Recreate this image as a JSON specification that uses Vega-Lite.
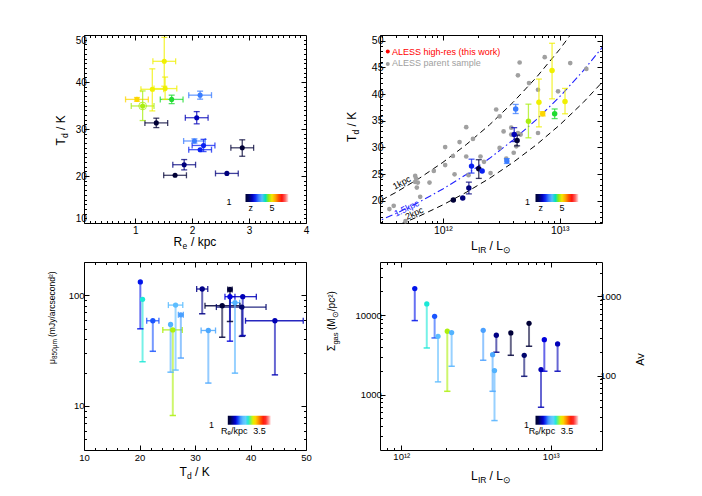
{
  "$schema": "https://vega.github.io/schema/vega-lite/v6.json",
  "background": "white",
  "padding": {"left": 46, "top": 34, "right": 2, "bottom": 2},
  "config": {
    "font": "Liberation Sans",
    "view": {"stroke": "black", "strokeWidth": 1},
    "axis": {"domain": false, "grid": false, "tickColor": "black", "tickWidth": 1, "labelColor": "black", "titleColor": "black", "titleFontWeight": "normal", "titleFontSize": 12, "labelFontSize": 10, "labelFlush": false, "labelOverlap": false, "labelBound": false},
    "legend": {"padding": 0, "gradientStrokeWidth": 0, "labelColor": "black", "labelFontSize": 9, "labelOverlap": false, "titleFontSize": 9, "titleFontWeight": "normal", "titleColor": "black", "titleOrient": "left", "titleAnchor": "middle", "titleBaseline": "top"}
  },
  "datasets": {
    "hr": [
      {"id": "a", "Re": 1.70, "Re_lo": 1.50, "Re_hi": 1.90, "Td": 20.15, "Td_lo": null, "Td_hi": null, "LIR": 1.23e12, "z": 1.05, "mu": 132, "mu_lo": 49.8, "sig": 21700, "sig_lo": 8570},
      {"id": "b", "Re": 2.61, "Re_lo": 2.41, "Re_hi": 2.81, "Td": 20.55, "Td_lo": null, "Td_hi": null, "LIR": 1.48e12, "z": 1.65, "mu": 92, "mu_lo": 25.1, "sig": 13900, "sig_lo": 3870},
      {"id": "c", "Re": 1.86, "Re_lo": 1.66, "Re_hi": 2.06, "Td": 22.4, "Td_lo": 21.3, "Td_hi": 23.5, "LIR": 1.67e12, "z": 1.65, "mu": 58.9, "mu_lo": 31.2, "sig": 9710, "sig_lo": 5180},
      {"id": "d", "Re": 2.20, "Re_lo": 2.00, "Re_hi": 2.40, "Td": 26.5, "Td_lo": 25.2, "Td_hi": 27.8, "LIR": 1.76e12, "z": 2.43, "mu": 81.6, "mu_lo": 21.1, "sig": 5430, "sig_lo": 1446},
      {"id": "e", "Re": 2.88, "Re_lo": 2.68, "Re_hi": 3.08, "Td": 26.0, "Td_lo": 24.2, "Td_hi": 27.7, "LIR": 2.03e12, "z": 1.05, "mu": 48.7, "mu_lo": 8.2, "sig": 6290, "sig_lo": 1100},
      {"id": "f", "Re": 2.14, "Re_lo": 1.94, "Re_hi": 2.34, "Td": 25.6, "Td_lo": null, "Td_hi": null, "LIR": 2.17e12, "z": 2.43, "mu": 54.5, "mu_lo": 20.2, "sig": 6050, "sig_lo": 2275},
      {"id": "g", "Re": 2.04, "Re_lo": 1.85, "Re_hi": 2.23, "Td": 27.45, "Td_lo": 27.0, "Td_hi": 27.9, "LIR": 3.53e12, "z": 2.95, "mu": 66.7, "mu_lo": 27.1, "sig": 6470, "sig_lo": 2710},
      {"id": "h", "Re": 2.14, "Re_lo": 1.94, "Re_hi": 2.34, "Td": 37.2, "Td_lo": 36.35, "Td_hi": 38.05, "LIR": 4.2e12, "z": 2.95, "mu": 85.8, "mu_lo": 19.8, "sig": 2010, "sig_lo": 470},
      {"id": "i", "Re": 2.08, "Re_lo": 1.88, "Re_hi": 2.28, "Td": 32.4, "Td_lo": 31.1, "Td_hi": 33.7, "LIR": 4.08e12, "z": 2.0, "mu": 48.1, "mu_lo": 16.1, "sig": 3190, "sig_lo": 1100},
      {"id": "j", "Re": 1.37, "Re_lo": 1.17, "Re_hi": 1.57, "Td": 31.3, "Td_lo": 30.3, "Td_hi": 32.3, "LIR": 4.32e12, "z": 1.05, "mu": 114, "mu_lo": 68.1, "sig": 5600, "sig_lo": 3420},
      {"id": "k", "Re": 1.13, "Re_lo": 0.93, "Re_hi": 1.33, "Td": 34.9, "Td_lo": 31.8, "Td_hi": 38.1, "LIR": 5.4e12, "z": 4.575, "mu": 80.5, "mu_lo": 41.8, "sig": 5990, "sig_lo": 3130},
      {"id": "l", "Re": 1.30, "Re_lo": 1.10, "Re_hi": 1.50, "Td": 38.45, "Td_lo": 33.85, "Td_hi": 42.8, "LIR": 6.64e12, "z": 4.9, "mu": 78.3, "mu_lo": 42.6, "sig": 3130, "sig_lo": 1700},
      {"id": "m", "Re": 1.03, "Re_lo": 0.83, "Re_hi": 1.23, "Td": 36.3, "Td_lo": 35.9, "Td_hi": 36.7, "LIR": 7.15e12, "z": 5.16, "mu": 113, "mu_lo": 58, "sig": 7930, "sig_lo": 4070},
      {"id": "n", "Re": 1.51, "Re_lo": 1.31, "Re_hi": 1.71, "Td": 44.4, "Td_lo": 39.1, "Td_hi": 49.5, "LIR": 8.6e12, "z": 4.9, "mu": 58.9, "mu_lo": 19.1, "sig": 2065, "sig_lo": 692},
      {"id": "o", "Re": 1.64, "Re_lo": 1.44, "Re_hi": 1.84, "Td": 36.3, "Td_lo": 35.4, "Td_hi": 37.2, "LIR": 9.05e12, "z": 4.25, "mu": 97.2, "mu_lo": 38.5, "sig": 4930, "sig_lo": 1970},
      {"id": "p", "Re": 1.525, "Re_lo": 1.33, "Re_hi": 1.73, "Td": 38.6, "Td_lo": 36.3, "Td_hi": 41.05, "LIR": 1.11e13, "z": 4.9, "mu": 97.2, "mu_lo": 43.3, "sig": 4350, "sig_lo": 1970}
    ],
    "parent": [
      {"LIR": 3.49e11, "Td": 18.45}, {"LIR": 3.80e11, "Td": 19.07}, {"LIR": 4.79e11, "Td": 16.2}, {"LIR": 5.80e11, "Td": 24.66}, {"LIR": 5.91e11, "Td": 24.16}, {"LIR": 5.80e11, "Td": 23.54}, {"LIR": 6.11e11, "Td": 23.42}, {"LIR": 5.99e11, "Td": 22.48}, {"LIR": 6.40e11, "Td": 20.75}, {"LIR": 7.69e11, "Td": 23.42}, {"LIR": 8.37e11, "Td": 25.6}, {"LIR": 1.047e12, "Td": 30.06}, {"LIR": 1.047e12, "Td": 26.7}, {"LIR": 1.22e12, "Td": 28.4}, {"LIR": 1.26e12, "Td": 24.97}, {"LIR": 1.39e12, "Td": 31.0}, {"LIR": 1.585e12, "Td": 33.8}, {"LIR": 1.585e12, "Td": 28.3}, {"LIR": 1.66e12, "Td": 24.8}, {"LIR": 1.81e12, "Td": 31.6}, {"LIR": 2.1e12, "Td": 28.3}, {"LIR": 2.25e12, "Td": 27.3}, {"LIR": 2.56e12, "Td": 25.2}, {"LIR": 2.86e12, "Td": 37.1}, {"LIR": 3.06e12, "Td": 35.8}, {"LIR": 3.06e12, "Td": 29.9}, {"LIR": 3.31e12, "Td": 33.0}, {"LIR": 3.49e12, "Td": 27.9}, {"LIR": 3.85e12, "Td": 33.7}, {"LIR": 3.85e12, "Td": 32.4}, {"LIR": 4.04e12, "Td": 29.0}, {"LIR": 4.39e12, "Td": 32.7}, {"LIR": 4.39e12, "Td": 43.5}, {"LIR": 4.54e12, "Td": 45.9}, {"LIR": 4.63e12, "Td": 32.4}, {"LIR": 4.25e12, "Td": 30.2}, {"LIR": 5.46e12, "Td": 42.05}, {"LIR": 6.52e12, "Td": 40.8}, {"LIR": 6.52e12, "Td": 32.7}, {"LIR": 7.44e12, "Td": 46.9}, {"LIR": 9.68e12, "Td": 40.5}, {"LIR": 1.23e13, "Td": 45.8}, {"LIR": 1.69e13, "Td": 44.7}
    ],
    "curves": [
      {"R": "1kpc", "LIR": 2.512e11, "T": 19.25}, {"R": "1kpc", "LIR": 3.981e11, "T": 21.6}, {"R": "1kpc", "LIR": 6.31e11, "T": 24.24}, {"R": "1kpc", "LIR": 1e12, "T": 27.2}, {"R": "1kpc", "LIR": 1.585e12, "T": 30.52}, {"R": "1kpc", "LIR": 2.512e12, "T": 34.24}, {"R": "1kpc", "LIR": 3.981e12, "T": 38.42}, {"R": "1kpc", "LIR": 6.31e12, "T": 43.11}, {"R": "1kpc", "LIR": 1e13, "T": 48.37}, {"R": "1kpc", "LIR": 1.585e13, "T": 54.27}, {"R": "1kpc", "LIR": 2.512e13, "T": 60.89},
      {"R": "1.5kpc", "LIR": 2.512e11, "T": 15.72}, {"R": "1.5kpc", "LIR": 3.981e11, "T": 17.64}, {"R": "1.5kpc", "LIR": 6.31e11, "T": 19.8}, {"R": "1.5kpc", "LIR": 1e12, "T": 22.21}, {"R": "1.5kpc", "LIR": 1.585e12, "T": 24.92}, {"R": "1.5kpc", "LIR": 2.512e12, "T": 27.96}, {"R": "1.5kpc", "LIR": 3.981e12, "T": 31.37}, {"R": "1.5kpc", "LIR": 6.31e12, "T": 35.2}, {"R": "1.5kpc", "LIR": 1e13, "T": 39.5}, {"R": "1.5kpc", "LIR": 1.585e13, "T": 44.32}, {"R": "1.5kpc", "LIR": 2.512e13, "T": 49.72},
      {"R": "2kpc", "LIR": 2.512e11, "T": 13.62}, {"R": "2kpc", "LIR": 3.981e11, "T": 15.28}, {"R": "2kpc", "LIR": 6.31e11, "T": 17.15}, {"R": "2kpc", "LIR": 1e12, "T": 19.24}, {"R": "2kpc", "LIR": 1.585e12, "T": 21.59}, {"R": "2kpc", "LIR": 2.512e12, "T": 24.22}, {"R": "2kpc", "LIR": 3.981e12, "T": 27.18}, {"R": "2kpc", "LIR": 6.31e12, "T": 30.49}, {"R": "2kpc", "LIR": 1e13, "T": 34.21}, {"R": "2kpc", "LIR": 1.585e13, "T": 38.39}, {"R": "2kpc", "LIR": 2.512e13, "T": 43.07}
    ]
  },
  "columns": 2,
  "spacing": {"row": 39, "column": 74},
  "bounds": "flush",
  "resolve": {"scale": {"x": "independent", "y": "independent", "fill": "independent", "stroke": "independent"}, "legend": {"fill": "independent", "stroke": "independent"}, "axis": {"x": "independent", "y": "independent"}},
  "concat": [
    {
      "width": 222, "height": 188,
      "resolve": {"axis": {"x": "independent", "y": "independent"}},
      "layer": [
        {"data": {"name": "hr"},
         "mark": {"type": "rule", "strokeWidth": 1.3, "opacity": 0.75},
         "encoding": {
           "x": {"field": "Re_lo", "type": "quantitative", "scale": {"domain": [0.1, 4], "nice": false, "zero": false}, "axis": {"orient": "top", "values": [1, 2, 3], "tickSize": -5, "labels": false, "title": null}},
           "x2": {"field": "Re_hi"},
           "y": {"field": "Td", "type": "quantitative", "scale": {"domain": [10, 50], "nice": false, "zero": false}, "axis": {"orient": "right", "values": [20, 30, 40], "tickSize": -5, "labels": false, "title": null}},
           "stroke": {"field": "z", "type": "quantitative", "legend": null,
             "scale": {"type": "linear", "domain": [0.9999, 1.325, 1.65, 1.975, 2.3, 2.625, 2.95, 3.275, 3.6, 3.925, 4.25, 4.575, 4.9, 5.225, 5.55, 5.875, 6.2, 6.525, 6.85, 7.175, 7.5], "range": ["#000000", "#00003a", "#00007c", "#0000b4", "#0000e8", "#1a3cff", "#3a7cff", "#50a4ff", "#62c4ff", "#50e0d0", "#20dc30", "#a8ee10", "#f0f000", "#ffd000", "#ffa000", "#ff6800", "#ff2800", "#ff1010", "#ff3838", "#ff9090", "#ffe8e8"]}}
         }},
        {"data": {"name": "hr"},
         "transform": [{"fold": ["Re_lo", "Re_hi"], "as": ["k", "xv"]}],
         "mark": {"type": "point", "shape": "M0,-1L0,1", "filled": false, "size": 36, "strokeWidth": 1.3, "opacity": 0.75},
         "encoding": {
           "x": {"field": "xv", "type": "quantitative", "axis": {"orient": "bottom", "values": [0.2,0.3,0.4,0.5,0.6,0.7,0.8,0.9,1.1,1.2,1.3,1.4,1.5,1.6,1.7,1.8,1.9,2.1,2.2,2.3,2.4,2.5,2.6,2.7,2.8,2.9,3.1,3.2,3.3,3.4,3.5,3.6,3.7,3.8,3.9], "tickSize": -2.5, "labels": false, "title": null}},
           "y": {"field": "Td", "type": "quantitative", "axis": {"orient": "left", "values": [11,12,13,14,15,16,17,18,19,21,22,23,24,25,26,27,28,29,31,32,33,34,35,36,37,38,39,41,42,43,44,45,46,47,48,49], "tickSize": -2.5, "labels": false, "title": null}},
           "stroke": {"field": "z", "type": "quantitative", "legend": null}
         }},
        {"data": {"name": "hr"},
         "transform": [{"filter": "isValid(datum.Td_lo)"}],
         "mark": {"type": "rule", "strokeWidth": 1.3, "opacity": 0.75},
         "encoding": {
           "x": {"field": "Re", "type": "quantitative", "axis": {"orient": "top", "values": [0.2,0.3,0.4,0.5,0.6,0.7,0.8,0.9,1.1,1.2,1.3,1.4,1.5,1.6,1.7,1.8,1.9,2.1,2.2,2.3,2.4,2.5,2.6,2.7,2.8,2.9,3.1,3.2,3.3,3.4,3.5,3.6,3.7,3.8,3.9], "tickSize": -2.5, "labels": false, "title": null}},
           "y": {"field": "Td_lo", "type": "quantitative", "axis": {"orient": "right", "values": [11,12,13,14,15,16,17,18,19,21,22,23,24,25,26,27,28,29,31,32,33,34,35,36,37,38,39,41,42,43,44,45,46,47,48,49], "tickSize": -2.5, "labels": false, "title": null}},
           "y2": {"field": "Td_hi"},
           "stroke": {"field": "z", "type": "quantitative", "legend": null}
         }},
        {"data": {"name": "hr"},
         "transform": [{"fold": ["Td_lo", "Td_hi"], "as": ["k", "yv"]}, {"filter": "isValid(datum.yv)"}],
         "mark": {"type": "point", "shape": "M-1,0L1,0", "filled": false, "size": 36, "strokeWidth": 1.3, "opacity": 0.75},
         "encoding": {
           "x": {"field": "Re", "type": "quantitative", "axis": {"orient": "bottom", "ticks": false, "labels": false, "title": "e", "titleFontSize": 8.5, "titleX": 98, "titleY": 25.5, "titleAlign": "left", "titleBaseline": "alphabetic"}},
           "y": {"field": "yv", "type": "quantitative", "axis": {"orient": "left", "ticks": false, "labels": false, "title": "d", "titleFontSize": 8.5, "titleX": -16.2, "titleY": 102.4, "titleAngle": -90, "titleAlign": "left", "titleBaseline": "alphabetic"}},
           "stroke": {"field": "z", "type": "quantitative", "legend": null}
         }},
        {"data": {"name": "hr"},
         "transform": [{"filter": "datum.id == 'k'"}],
         "mark": {"type": "point", "shape": "circle", "filled": false, "size": 60, "strokeWidth": 1, "opacity": 0.8},
         "encoding": {
           "x": {"field": "Re", "type": "quantitative", "axis": {"orient": "bottom", "ticks": false, "labels": false, "title": "/ kpc", "titleX": 106.5, "titleY": 22.5, "titleAlign": "left", "titleBaseline": "alphabetic"}},
           "y": {"field": "Td", "type": "quantitative", "axis": {"orient": "left", "ticks": false, "labels": false, "title": "/ K", "titleX": -19.2, "titleY": 94.5, "titleAngle": -90, "titleAlign": "left", "titleBaseline": "alphabetic"}},
           "stroke": {"field": "z", "type": "quantitative", "legend": null}
         }},
        {"data": {"name": "hr"},
         "mark": {"type": "circle", "size": 26, "opacity": 1},
         "encoding": {
           "x": {"field": "Re", "type": "quantitative", "axis": {"orient": "bottom", "values": [1, 2, 3, 4], "tickSize": -5, "labelPadding": 7, "title": "R", "titleX": 89, "titleY": 22.5, "titleBaseline": "alphabetic", "titleAlign": "left"}},
           "y": {"field": "Td", "type": "quantitative", "axis": {"orient": "left", "values": [10, 20, 30, 40, 50], "tickSize": -5, "labelPadding": 2.7, "labelFlush": true, "title": "T", "titleX": -19.2, "titleY": 110, "titleAngle": -90, "titleBaseline": "alphabetic", "titleAlign": "left"}},
           "fill": {"field": "z", "type": "quantitative",
             "scale": {"type": "linear", "domain": [1, 1.325, 1.65, 1.975, 2.3, 2.625, 2.95, 3.275, 3.6, 3.925, 4.25, 4.575, 4.9, 5.225, 5.55, 5.875, 6.2, 6.525, 6.85, 7.175, 7.5], "range": ["#000000", "#00003a", "#00007c", "#0000b4", "#0000e8", "#1a3cff", "#3a7cff", "#50a4ff", "#62c4ff", "#50e0d0", "#20dc30", "#a8ee10", "#f0f000", "#ffd000", "#ffa000", "#ff6800", "#ff2800", "#ff1010", "#ff3838", "#ff9090", "#ffe8e8"]},
             "legend": {"type": "gradient", "orient": "none", "legendX": 142.5, "legendY": 159, "direction": "horizontal", "gradientLength": 43, "gradientThickness": 8, "values": [1.81, 5], "labelExpr": "datum.value == 5 ? '5' : 'z'", "title": "1", "titlePadding": 13, "labelAlign": "center", "labelOffset": 2}}
         }}
      ]
    },
    {
      "width": 222, "height": 188,
      "resolve": {"axis": {"x": "independent", "y": "independent"}},
      "layer": [
        {"data": {"name": "curves"},
         "transform": [{"filter": "datum.R != '1.5kpc'"}],
         "mark": {"type": "line", "color": "black", "strokeDash": [6, 4], "strokeWidth": 1, "clip": true},
         "encoding": {
           "x": {"field": "LIR", "type": "quantitative", "scale": {"type": "log", "domain": [2.9e11, 2.3e13], "nice": false}, "axis": {"orient": "top", "values": [1e12, 1e13], "tickSize": -5, "labels": false, "title": null}},
           "y": {"field": "T", "type": "quantitative", "scale": {"domain": [15.85, 51.05], "nice": false, "zero": false}, "axis": {"orient": "right", "values": [20, 25, 30, 35, 40, 45, 50], "tickSize": -5, "labels": false, "title": null}},
           "detail": {"field": "R"}
         }},
        {"data": {"name": "curves"},
         "transform": [{"filter": "datum.R == '1.5kpc'"}],
         "mark": {"type": "line", "color": "#2020ff", "strokeDash": [7, 3, 1.5, 3], "strokeWidth": 1.1, "clip": true},
         "encoding": {
           "x": {"field": "LIR", "type": "quantitative", "axis": {"orient": "bottom", "values": [3e11,4e11,5e11,6e11,7e11,8e11,9e11,2e12,3e12,4e12,5e12,6e12,7e12,8e12,9e12,2e13], "tickSize": -2.5, "labels": false, "title": null}},
           "y": {"field": "T", "type": "quantitative", "axis": {"orient": "left", "values": [16,17,18,19,21,22,23,24,26,27,28,29,31,32,33,34,36,37,38,39,41,42,43,44,46,47,48,49,51], "tickSize": -2.5, "labels": false, "title": null}}
         }},
        {"data": {"name": "parent"},
         "mark": {"type": "circle", "color": "#a0a0a0", "size": 22, "opacity": 1},
         "encoding": {
           "x": {"field": "LIR", "type": "quantitative", "axis": {"orient": "top", "values": [3e11,4e11,5e11,6e11,7e11,8e11,9e11,2e12,3e12,4e12,5e12,6e12,7e12,8e12,9e12,2e13], "tickSize": -2.5, "labels": false, "title": null}},
           "y": {"field": "Td", "type": "quantitative", "axis": {"orient": "right", "values": [16,17,18,19,21,22,23,24,26,27,28,29,31,32,33,34,36,37,38,39,41,42,43,44,46,47,48,49,51], "tickSize": -2.5, "labels": false, "title": null}}
         }},
        {"data": {"values": [{}]},
         "mark": {"type": "text", "text": "1kpc", "angle": -28, "fontSize": 9, "color": "black"},
         "encoding": {
           "x": {"datum": 4.45e11, "type": "quantitative", "axis": {"orient": "bottom", "ticks": false, "labels": false, "title": "IR", "titleFontSize": 8.5, "titleX": 97.5, "titleY": 29, "titleAlign": "left", "titleBaseline": "alphabetic"}},
           "y": {"datum": 23.4, "type": "quantitative", "axis": {"orient": "left", "ticks": false, "labels": false, "title": "d", "titleFontSize": 8.5, "titleX": -21.7, "titleY": 98.9, "titleAngle": -90, "titleAlign": "left", "titleBaseline": "alphabetic"}}}},
        {"data": {"values": [{}]},
         "mark": {"type": "text", "text": "1.5kpc", "angle": -26, "fontSize": 9, "color": "#2020ff"},
         "encoding": {
           "x": {"datum": 4.9e11, "type": "quantitative", "axis": {"orient": "bottom", "ticks": false, "labels": false, "title": "⊙", "titleFontSize": 8.5, "titleX": 122.8, "titleY": 29, "titleAlign": "left", "titleBaseline": "alphabetic"}},
           "y": {"datum": 18.6, "type": "quantitative", "axis": {"orient": "left", "ticks": false, "labels": false, "title": "/ K", "titleX": -24.7, "titleY": 91, "titleAngle": -90, "titleAlign": "left", "titleBaseline": "alphabetic"}}}},
        {"data": {"values": [{}]},
         "mark": {"type": "text", "text": "2kpc", "angle": -25, "fontSize": 9, "color": "black"},
         "encoding": {
           "x": {"datum": 5.7e11, "type": "quantitative", "axis": {"orient": "bottom", "ticks": false, "labels": false, "title": "/ L", "titleX": 109, "titleY": 26, "titleAlign": "left", "titleBaseline": "alphabetic"}},
           "y": {"datum": 17.65, "type": "quantitative", "axis": null}}},
        {"data": {"values": [{}]},
         "mark": {"type": "circle", "color": "#ff0000", "size": 16, "opacity": 1},
         "encoding": {"x": {"datum": 3.38e11, "type": "quantitative", "axis": null}, "y": {"datum": 47.95, "type": "quantitative", "axis": null}}},
        {"data": {"values": [{}]},
         "mark": {"type": "text", "text": "ALESS high-res (this work)", "align": "left", "fontSize": 9, "color": "#ff0000"},
         "encoding": {"x": {"datum": 3.68e11, "type": "quantitative", "axis": null}, "y": {"datum": 47.95, "type": "quantitative", "axis": null}}},
        {"data": {"values": [{}]},
         "mark": {"type": "circle", "color": "#a0a0a0", "size": 16, "opacity": 1},
         "encoding": {"x": {"datum": 3.38e11, "type": "quantitative", "axis": null}, "y": {"datum": 45.6, "type": "quantitative", "axis": null}}},
        {"data": {"values": [{}]},
         "mark": {"type": "text", "text": "ALESS parent sample", "align": "left", "fontSize": 9, "color": "#a0a0a0"},
         "encoding": {"x": {"datum": 3.68e11, "type": "quantitative", "axis": null}, "y": {"datum": 45.9, "type": "quantitative", "axis": null}}},
        {"data": {"name": "hr"},
         "transform": [{"filter": "isValid(datum.Td_lo)"}],
         "mark": {"type": "rule", "strokeWidth": 1.3, "opacity": 0.75},
         "encoding": {
           "x": {"field": "LIR", "type": "quantitative", "axis": null},
           "y": {"field": "Td_lo", "type": "quantitative", "axis": null},
           "y2": {"field": "Td_hi"},
           "stroke": {"field": "z", "type": "quantitative", "legend": null,
             "scale": {"type": "linear", "domain": [0.9999, 1.325, 1.65, 1.975, 2.3, 2.625, 2.95, 3.275, 3.6, 3.925, 4.25, 4.575, 4.9, 5.225, 5.55, 5.875, 6.2, 6.525, 6.85, 7.175, 7.5], "range": ["#000000", "#00003a", "#00007c", "#0000b4", "#0000e8", "#1a3cff", "#3a7cff", "#50a4ff", "#62c4ff", "#50e0d0", "#20dc30", "#a8ee10", "#f0f000", "#ffd000", "#ffa000", "#ff6800", "#ff2800", "#ff1010", "#ff3838", "#ff9090", "#ffe8e8"]}}
         }},
        {"data": {"name": "hr"},
         "transform": [{"fold": ["Td_lo", "Td_hi"], "as": ["k", "yv"]}, {"filter": "isValid(datum.yv)"}],
         "mark": {"type": "point", "shape": "M-1,0L1,0", "filled": false, "size": 36, "strokeWidth": 1.3, "opacity": 0.75},
         "encoding": {
           "x": {"field": "LIR", "type": "quantitative", "axis": null},
           "y": {"field": "yv", "type": "quantitative", "axis": null},
           "stroke": {"field": "z", "type": "quantitative", "legend": null}
         }},
        {"data": {"name": "hr"},
         "mark": {"type": "circle", "size": 30, "opacity": 1},
         "encoding": {
           "x": {"field": "LIR", "type": "quantitative", "axis": {"orient": "bottom", "values": [1e12, 1e13], "labelExpr": "datum.value < 5e12 ? '10¹²' : '10¹³'", "tickSize": -5, "labelPadding": 7, "labelFontSize": 10.5, "title": "L", "titleX": 90.5, "titleY": 26, "titleBaseline": "alphabetic", "titleAlign": "left"}},
           "y": {"field": "Td", "type": "quantitative", "axis": {"orient": "left", "values": [20, 25, 30, 35, 40, 45, 50], "tickSize": -5, "labelPadding": 2, "labelFontSize": 10.5, "title": "T", "titleX": -24.7, "titleY": 106.5, "titleAngle": -90, "titleBaseline": "alphabetic", "titleAlign": "left"}},
           "fill": {"field": "z", "type": "quantitative",
             "scale": {"type": "linear", "domain": [1, 1.325, 1.65, 1.975, 2.3, 2.625, 2.95, 3.275, 3.6, 3.925, 4.25, 4.575, 4.9, 5.225, 5.55, 5.875, 6.2, 6.525, 6.85, 7.175, 7.5], "range": ["#000000", "#00003a", "#00007c", "#0000b4", "#0000e8", "#1a3cff", "#3a7cff", "#50a4ff", "#62c4ff", "#50e0d0", "#20dc30", "#a8ee10", "#f0f000", "#ffd000", "#ffa000", "#ff6800", "#ff2800", "#ff1010", "#ff3838", "#ff9090", "#ffe8e8"]},
             "legend": {"type": "gradient", "orient": "none", "legendX": 145, "legendY": 159, "direction": "horizontal", "gradientLength": 43, "gradientThickness": 8, "values": [1.81, 5], "labelExpr": "datum.value == 5 ? '5' : 'z'", "title": "1", "titlePadding": 4.5, "labelAlign": "center", "labelOffset": 2}}
         }}
      ]
    },
    {
      "width": 222, "height": 188,
      "resolve": {"axis": {"x": "independent", "y": "independent"}},
      "layer": [
        {"data": {"name": "hr"},
         "transform": [{"filter": "isValid(datum.Td_lo)"}],
         "mark": {"type": "rule", "strokeWidth": 1.3, "opacity": 0.85},
         "encoding": {
           "x": {"field": "Td_lo", "type": "quantitative", "scale": {"domain": [10, 50], "nice": false, "zero": false}, "axis": {"orient": "top", "values": [20, 30, 40], "tickSize": -5, "labels": false, "title": null}},
           "x2": {"field": "Td_hi"},
           "y": {"field": "mu", "type": "quantitative", "scale": {"type": "log", "domain": [4, 200], "nice": false}, "axis": {"orient": "right", "values": [10, 100], "tickSize": -5, "labels": false, "title": null}},
           "stroke": {"field": "Re", "type": "quantitative", "legend": null,
             "scale": {"type": "linear", "domain": [0.9999, 1.17, 1.34, 1.51, 1.68, 1.85, 2.02, 2.19, 2.36, 2.53, 2.7, 2.87, 3.04, 3.21, 3.38, 3.55, 3.72, 3.89, 4.06, 4.23, 4.4], "range": ["#000000", "#00003a", "#00007c", "#0000b4", "#0000e8", "#2050ff", "#4a9cff", "#5cbcff", "#68ccff", "#5cdcf0", "#48f0a0", "#a8f010", "#f0f000", "#ffd000", "#ffa000", "#ff6800", "#ff2800", "#ff1010", "#ff3838", "#ff9090", "#ffe8e8"]}}
         }},
        {"data": {"name": "hr"},
         "transform": [{"fold": ["Td_lo", "Td_hi"], "as": ["k", "xv"]}, {"filter": "isValid(datum.xv)"}],
         "mark": {"type": "point", "shape": "M0,-1L0,1", "filled": false, "size": 36, "strokeWidth": 1.3, "opacity": 0.85},
         "encoding": {
           "x": {"field": "xv", "type": "quantitative", "axis": {"orient": "bottom", "values": [12,14,16,18,22,24,26,28,32,34,36,38,42,44,46,48], "tickSize": -2.5, "labels": false, "title": null}},
           "y": {"field": "mu", "type": "quantitative", "axis": {"orient": "left", "values": [5,6,7,8,9,20,30,40,50,60,70,80,90,200], "tickSize": -2.5, "labels": false, "title": null}},
           "stroke": {"field": "Re", "type": "quantitative", "legend": null}
         }},
        {"data": {"name": "hr"},
         "mark": {"type": "rule", "strokeWidth": 2, "opacity": 0.6},
         "encoding": {
           "x": {"field": "Td", "type": "quantitative", "axis": {"orient": "top", "values": [12,14,16,18,22,24,26,28,32,34,36,38,42,44,46,48], "tickSize": -2.5, "labels": false, "title": null}},
           "y": {"field": "mu_lo", "type": "quantitative", "axis": {"orient": "right", "values": [5,6,7,8,9,20,30,40,50,60,70,80,90,200], "tickSize": -2.5, "labels": false, "title": null}},
           "y2": {"field": "mu"},
           "stroke": {"field": "Re", "type": "quantitative", "legend": null}
         }},
        {"data": {"name": "hr"},
         "mark": {"type": "point", "shape": "M-1,0L1,0", "filled": false, "size": 40, "strokeWidth": 1.5, "opacity": 0.85},
         "encoding": {
           "x": {"field": "Td", "type": "quantitative", "axis": {"orient": "bottom", "ticks": false, "labels": false, "title": "d", "titleFontSize": 8.5, "titleX": 102.6, "titleY": 28, "titleAlign": "left", "titleBaseline": "alphabetic"}},
           "y": {"field": "mu_lo", "type": "quantitative", "axis": {"orient": "left", "ticks": false, "labels": false, "title": "850μm", "titleFontSize": 6.5, "titleX": -27.8, "titleY": 96.5, "titleAngle": -90, "titleAlign": "left", "titleBaseline": "alphabetic"}},
           "stroke": {"field": "Re", "type": "quantitative", "legend": null}
         }},
        {"data": {"name": "hr"},
         "mark": {"type": "point", "opacity": 0},
         "encoding": {
           "x": {"field": "Td", "type": "quantitative", "axis": {"orient": "bottom", "ticks": false, "labels": false, "title": "/ K", "titleX": 110.5, "titleY": 25, "titleAlign": "left", "titleBaseline": "alphabetic"}},
           "y": {"field": "mu", "type": "quantitative", "axis": {"orient": "left", "ticks": false, "labels": false, "title": "(mJy/arcsecond²)", "titleFontSize": 8.5, "titleX": -30, "titleY": 74.5, "titleAngle": -90, "titleAlign": "left", "titleBaseline": "alphabetic"}}
         }},
        {"data": {"name": "hr"},
         "mark": {"type": "circle", "size": 28, "opacity": 1},
         "encoding": {
           "x": {"field": "Td", "type": "quantitative", "axis": {"orient": "bottom", "values": [10, 20, 30, 40, 50], "tickSize": -5, "labelPadding": 7, "labelFontSize": 9.5, "title": "T", "titleX": 95, "titleY": 25, "titleBaseline": "alphabetic", "titleAlign": "left"}},
           "y": {"field": "mu", "type": "quantitative", "axis": {"orient": "left", "values": [10, 100], "tickSize": -5, "labelPadding": 5, "labelFontSize": 9.5, "title": "μ", "titleFontSize": 8.5, "titleX": -30, "titleY": 101.6, "titleAngle": -90, "titleBaseline": "alphabetic", "titleAlign": "left"}},
           "fill": {"field": "Re", "type": "quantitative",
             "scale": {"type": "linear", "domain": [1, 1.17, 1.34, 1.51, 1.68, 1.85, 2.02, 2.19, 2.36, 2.53, 2.7, 2.87, 3.04, 3.21, 3.38, 3.55, 3.72, 3.89, 4.06, 4.23, 4.4], "range": ["#000000", "#00003a", "#00007c", "#0000b4", "#0000e8", "#2050ff", "#4a9cff", "#5cbcff", "#68ccff", "#5cdcf0", "#48f0a0", "#a8f010", "#f0f000", "#ffd000", "#ffa000", "#ff6800", "#ff2800", "#ff1010", "#ff3838", "#ff9090", "#ffe8e8"]},
             "legend": {"type": "gradient", "orient": "none", "legendX": 125, "legendY": 153.7, "direction": "horizontal", "gradientLength": 43, "gradientThickness": 9, "values": [1.51, 3.5], "labelExpr": "datum.value == 3.5 ? '3.5' : 'Rₑ/kpc'", "title": "1", "titlePadding": 12.8, "labelAlign": "center", "labelOffset": 2}}
         }}
      ]
    },
    {
      "width": 222, "height": 188,
      "resolve": {"scale": {"y": "independent"}, "axis": {"x": "independent", "y": "independent"}},
      "layer": [
        {"data": {"name": "hr"},
         "mark": {"type": "rule", "strokeWidth": 2, "opacity": 0.6},
         "encoding": {
           "x": {"field": "LIR", "type": "quantitative", "scale": {"type": "log", "domain": [7.2e11, 2.2e13], "nice": false}, "axis": {"orient": "top", "values": [1e12, 1e13], "tickSize": -5, "labels": false, "title": null}},
           "y": {"field": "sig_lo", "type": "quantitative", "scale": {"type": "log", "domain": [200, 47000], "nice": false}, "axis": {"orient": "left", "values": [300,400,500,600,700,800,900,2000,3000,4000,5000,6000,7000,8000,9000,20000,30000,40000], "tickSize": -2.5, "labels": false, "title": null}},
           "y2": {"field": "sig"},
           "stroke": {"field": "Re", "type": "quantitative", "legend": null,
             "scale": {"type": "linear", "domain": [0.9999, 1.17, 1.34, 1.51, 1.68, 1.85, 2.02, 2.19, 2.36, 2.53, 2.7, 2.87, 3.04, 3.21, 3.38, 3.55, 3.72, 3.89, 4.06, 4.23, 4.4], "range": ["#000000", "#00003a", "#00007c", "#0000b4", "#0000e8", "#2050ff", "#4a9cff", "#5cbcff", "#68ccff", "#5cdcf0", "#48f0a0", "#a8f010", "#f0f000", "#ffd000", "#ffa000", "#ff6800", "#ff2800", "#ff1010", "#ff3838", "#ff9090", "#ffe8e8"]}}
         }},
        {"data": {"name": "hr"},
         "mark": {"type": "point", "shape": "M-1,0L1,0", "filled": false, "size": 40, "strokeWidth": 1.5, "opacity": 0.85},
         "encoding": {
           "x": {"field": "LIR", "type": "quantitative", "axis": {"orient": "bottom", "values": [8e11,9e11,2e12,3e12,4e12,5e12,6e12,7e12,8e12,9e12,2e13], "tickSize": -2.5, "labels": false, "title": null}},
           "y": {"field": "sig_lo", "type": "quantitative", "scale": {"type": "log", "domain": [200, 47000], "nice": false}, "axis": {"orient": "left", "ticks": false, "labels": false, "title": "gas", "titleFontSize": 7.5, "titleX": -43, "titleY": 82.1, "titleAngle": -90, "titleAlign": "left", "titleBaseline": "alphabetic"}},
           "stroke": {"field": "Re", "type": "quantitative", "legend": null}
         }},
        {"data": {"name": "hr"},
         "mark": {"type": "point", "opacity": 0},
         "encoding": {
           "x": {"field": "LIR", "type": "quantitative", "axis": {"orient": "bottom", "ticks": false, "labels": false, "title": "⊙", "titleFontSize": 8.5, "titleX": 122.8, "titleY": 32, "titleAlign": "left", "titleBaseline": "alphabetic"}},
           "y": {"field": "sig", "type": "quantitative", "scale": {"type": "log", "domain": [200, 47000], "nice": false}, "axis": {"orient": "left", "ticks": false, "labels": false, "title": "⊙", "titleFontSize": 7.5, "titleX": -43, "titleY": 55.5, "titleAngle": -90, "titleAlign": "left", "titleBaseline": "alphabetic"}}
         }},
        {"data": {"name": "hr"},
         "mark": {"type": "point", "opacity": 0},
         "encoding": {
           "x": {"field": "LIR", "type": "quantitative", "axis": {"orient": "bottom", "ticks": false, "labels": false, "title": "/ L", "titleX": 109, "titleY": 29, "titleAlign": "left", "titleBaseline": "alphabetic"}},
           "y": {"field": "sig", "type": "quantitative", "scale": {"type": "log", "domain": [200, 47000], "nice": false}, "axis": {"orient": "left", "ticks": false, "labels": false, "title": "(M", "titleFontSize": 10, "titleX": -45.5, "titleY": 67.5, "titleAngle": -90, "titleAlign": "left", "titleBaseline": "alphabetic"}}
         }},
        {"data": {"name": "hr"},
         "mark": {"type": "point", "opacity": 0},
         "encoding": {
           "x": {"field": "LIR", "type": "quantitative", "axis": null},
           "y": {"field": "sig", "type": "quantitative", "scale": {"type": "log", "domain": [200, 47000], "nice": false}, "axis": {"orient": "left", "ticks": false, "labels": false, "title": "/pc²)", "titleFontSize": 10, "titleX": -45.5, "titleY": 48.7, "titleAngle": -90, "titleAlign": "left", "titleBaseline": "alphabetic"}}
         }},
        {"data": {"name": "hr"},
         "mark": {"type": "circle", "size": 28, "opacity": 1},
         "encoding": {
           "x": {"field": "LIR", "type": "quantitative", "axis": {"orient": "bottom", "values": [1e12, 1e13], "labelExpr": "datum.value < 5e12 ? '10¹²' : '10¹³'", "tickSize": -5, "labelPadding": 6, "labelFontSize": 9.5, "title": "L", "titleX": 90.5, "titleY": 29, "titleBaseline": "alphabetic", "titleAlign": "left"}},
           "y": {"field": "sig", "type": "quantitative", "scale": {"type": "log", "domain": [200, 47000], "nice": false}, "axis": {"orient": "left", "values": [1000, 10000], "format": "d", "tickSize": -5, "labelPadding": 3.7, "labelFontSize": 9.5, "title": "Σ", "titleFontSize": 10, "titleX": -45.5, "titleY": 88.4, "titleAngle": -90, "titleBaseline": "alphabetic", "titleAlign": "left"}},
           "fill": {"field": "Re", "type": "quantitative",
             "scale": {"type": "linear", "domain": [1, 1.17, 1.34, 1.51, 1.68, 1.85, 2.02, 2.19, 2.36, 2.53, 2.7, 2.87, 3.04, 3.21, 3.38, 3.55, 3.72, 3.89, 4.06, 4.23, 4.4], "range": ["#000000", "#00003a", "#00007c", "#0000b4", "#0000e8", "#2050ff", "#4a9cff", "#5cbcff", "#68ccff", "#5cdcf0", "#48f0a0", "#a8f010", "#f0f000", "#ffd000", "#ffa000", "#ff6800", "#ff2800", "#ff1010", "#ff3838", "#ff9090", "#ffe8e8"]},
             "legend": {"type": "gradient", "orient": "none", "legendX": 144, "legendY": 153.7, "direction": "horizontal", "gradientLength": 43, "gradientThickness": 9, "values": [1.51, 3.5], "labelExpr": "datum.value == 3.5 ? '3.5' : 'Rₑ/kpc'", "title": "1", "titlePadding": 5.5, "labelAlign": "center", "labelOffset": 2}}
         }},
        {"data": {"name": "hr"},
         "mark": {"type": "point", "opacity": 0},
         "encoding": {
           "x": {"field": "LIR", "type": "quantitative", "axis": {"orient": "top", "values": [8e11,9e11,2e12,3e12,4e12,5e12,6e12,7e12,8e12,9e12,2e13], "tickSize": -2.5, "labels": false, "title": null}},
           "y": {"datum": 100, "type": "quantitative", "scale": {"type": "log", "domain": [11.6, 2717], "nice": false}, "axis": {"orient": "right", "values": [100, 1000], "format": "d", "tickSize": -5, "labelPadding": 2.7, "labelFontSize": 9.5, "title": "Av", "titleFontSize": 11, "titleX": 38.5, "titleY": 97, "titleAngle": -90, "titleBaseline": "middle", "titleAlign": "center"}}
         }},
        {"data": {"name": "hr"},
         "mark": {"type": "point", "opacity": 0},
         "encoding": {
           "x": {"field": "LIR", "type": "quantitative", "axis": {"orient": "bottom", "ticks": false, "labels": false, "title": "IR", "titleFontSize": 8.5, "titleX": 97.5, "titleY": 32, "titleAlign": "left", "titleBaseline": "alphabetic"}},
           "y": {"datum": 100, "type": "quantitative", "scale": {"type": "log", "domain": [11.6, 2717], "nice": false}, "axis": {"orient": "right", "values": [20,30,40,50,60,70,80,90,200,300,400,500,600,700,800,900,2000], "tickSize": -2.5, "labels": false, "title": null}}
         }}
      ]
    }
  ]
}
